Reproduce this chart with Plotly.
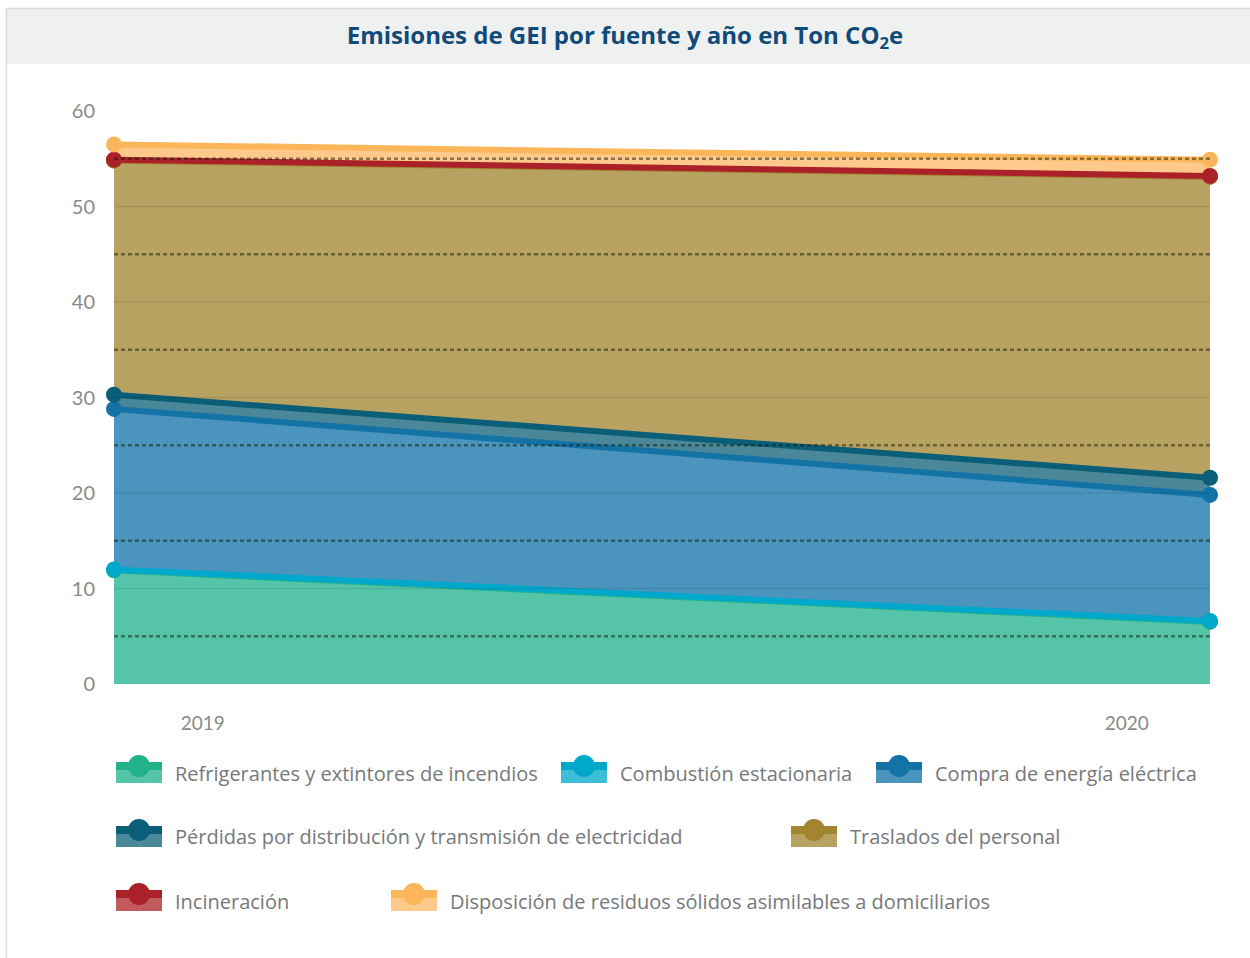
import plotly.graph_objects as go

# ---------------- data ----------------
years = [2019, 2020]
series_names = [
    "Refrigerantes y extintores de incendios",
    "Combustión estacionaria",
    "Compra de energía eléctrica",
    "Pérdidas por distribución y transmisión de electricidad",
    "Traslados del personal",
    "Incineración",
    "Disposición de residuos sólidos asimilables a domiciliarios",
]
refrigerantes = [11.9, 6.5]
combustion = [0.1, 0.1]
compra_energia = [16.8, 13.2]
perdidas = [1.5, 1.8]
traslados = [24.5, 31.5]
incineracion = [0.1, 0.1]
disposicion = [1.6, 1.7]
values = [refrigerantes, combustion, compra_energia, perdidas, traslados, incineracion, disposicion]

year_labels = ["2019", "2020"]
y_ticks = [0, 10, 20, 30, 40, 50, 60]

# ---------------- styles ----------------
line_colors = ["#21b28a", "#00a9cc", "#1473a6", "#0b5e78", "#a3852f", "#ab212a", "#fbb65a"]
fill_colors = ["#56c4a8", "#3dbdd6", "#4a94bd", "#4a8899", "#b8a262", "#c25a5e", "#fec98a"]

W, H = 1250, 958
L, R, T, B = 114, 1210, 111, 684  # plot area in figure px


def px_x(px):
    return (px - L) / (R - L)


def px_y(py):
    return (B - py) / (B - T)


fig = go.Figure()
for name, vals, lc, fc in zip(series_names, values, line_colors, fill_colors):
    fig.add_trace(go.Scatter(
        x=years, y=vals, name=name, stackgroup="one", mode="lines+markers",
        line=dict(color=lc, width=6), marker=dict(color=lc, size=16),
        fillcolor=fc, cliponaxis=False, showlegend=False,
    ))

shapes = []
# title band and frame
shapes.append(dict(type="rect", xref="paper", yref="paper",
                   x0=px_x(6), x1=px_x(1252), y0=px_y(64), y1=px_y(8),
                   fillcolor="#eff0f0", line=dict(width=0), layer="below"))
shapes.append(dict(type="line", xref="paper", yref="paper",
                   x0=px_x(6), x1=px_x(1252), y0=px_y(8.5), y1=px_y(8.5),
                   line=dict(color="#dcdcdc", width=1.5)))
shapes.append(dict(type="line", xref="paper", yref="paper",
                   x0=px_x(6.5), x1=px_x(6.5), y0=px_y(8), y1=px_y(960),
                   line=dict(color="#dcdcdc", width=1.5)))
# subtle solid grid lines over fills
for v in [10, 20, 30, 40, 50]:
    shapes.append(dict(type="line", xref="paper", yref="y", x0=0, x1=1, y0=v, y1=v,
                       line=dict(color="rgba(0,0,0,0.09)", width=1.5), layer="above"))
# dotted minor lines over fills
for v in [5, 15, 25, 35, 45, 55]:
    shapes.append(dict(type="line", xref="paper", yref="y", x0=0, x1=1, y0=v, y1=v,
                       line=dict(color="rgba(20,30,10,0.5)", width=2.5, dash="4px,3px"),
                       layer="above"))

# custom legend
legend_pos = [(116, 772), (561, 772), (876, 772), (116, 836), (791, 836), (116, 900), (391, 900)]
annotations = []
for name, lc, fc, (lx, ly) in zip(series_names, line_colors, fill_colors, legend_pos):
    top, mid, bot = ly - 10, ly - 2, ly + 11
    shapes.append(dict(type="rect", xref="paper", yref="paper",
                       x0=px_x(lx), x1=px_x(lx + 46), y0=px_y(bot), y1=px_y(mid),
                       fillcolor=fc, line=dict(width=0)))
    shapes.append(dict(type="rect", xref="paper", yref="paper",
                       x0=px_x(lx), x1=px_x(lx + 46), y0=px_y(mid), y1=px_y(top),
                       fillcolor=lc, line=dict(width=0)))
    cx, cy, r = lx + 23, ly - 6, 11
    shapes.append(dict(type="circle", xref="paper", yref="paper",
                       x0=px_x(cx - r), x1=px_x(cx + r), y0=px_y(cy + r), y1=px_y(cy - r),
                       fillcolor=lc, line=dict(width=0)))
    annotations.append(dict(text=name, xref="paper", yref="paper", x=px_x(lx + 57), y=px_y(ly + 1),
                            xanchor="left", yanchor="middle", showarrow=False,
                            font=dict(family="Open Sans", size=20, color="#77787b")))

fig.update_layout(
    width=W, height=H,
    margin=dict(l=L, r=W - R, t=T, b=H - B, pad=0),
    paper_bgcolor="white", plot_bgcolor="white",
    title=dict(text="<b>Emisiones de GEI por fuente y año en Ton CO<sub>2</sub>e</b>",
               x=625 / W, xref="container", xanchor="center",
               y=1 - 36 / H, yref="container", yanchor="middle",
               font=dict(family="Open Sans", size=24, color="#0f4a78")),
    xaxis=dict(range=[2019, 2020], tickvals=[2019.081, 2019.924], ticktext=year_labels,
               showgrid=False, zeroline=False, showline=False, ticks="",
               ticklabelstandoff=26,
               tickfont=dict(family="Lato", size=19, color="#8a8a8a")),
    yaxis=dict(range=[0, 60], tickvals=y_ticks, showgrid=True, gridcolor="#a0a0a0",
               gridwidth=1, zeroline=False, showline=False, ticks="",
               ticklabelstandoff=18,
               tickfont=dict(family="Lato", size=20, color="#8a8a8a")),
    shapes=shapes, annotations=annotations, showlegend=False,
    hovermode=False,
)

fig.write_html("out.html", config={"displayModeBar": False},
               post_script="document.body.style.margin='0';document.body.style.overflow='hidden';")
